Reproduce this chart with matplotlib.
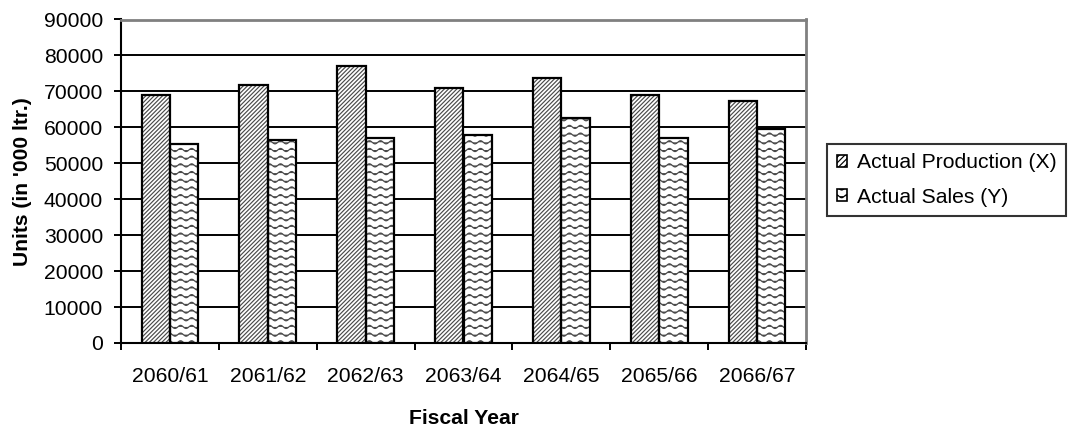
import numpy as np
import matplotlib
matplotlib.use("Agg")
import matplotlib.pyplot as plt
import matplotlib.hatch as mhatch
from matplotlib.path import Path
from matplotlib.patches import Patch

# Data
years = ["2060/61", "2061/62", "2062/63", "2063/64", "2064/65", "2065/66", "2066/67"]
production = [68900, 71700, 77200, 71000, 73800, 68900, 67200]
sales = [55500, 56600, 57100, 57800, 62700, 57100, 59400]
series_names = ["Actual Production (X)", "Actual Sales (Y)"]
y_ticks = list(range(0, 90001, 10000))


class WaveHatch(mhatch.HatchPatternBase):
    """Wavy horizontal hatch, used in place of the plain '-' hatch."""
    periods = 9
    samples = 10

    def __init__(self, hatch, density):
        self.num_rows = int(hatch.count('-') * 6.5)
        self.n_pts = self.periods * self.samples + 1
        self.num_vertices = self.num_rows * self.n_pts

    def set_vertices_and_codes(self, vertices, codes):
        if self.num_rows == 0:
            return
        xs = np.linspace(0.0, 1.0, self.n_pts)
        wave = 0.016 * np.sin(2 * np.pi * self.periods * xs)
        rows = (np.arange(self.num_rows) + 0.5) / self.num_rows
        for i, r in enumerate(rows):
            seg = slice(i * self.n_pts, (i + 1) * self.n_pts)
            vertices[seg, 0] = xs
            vertices[seg, 1] = r + wave
            codes[seg] = Path.LINETO
            codes[i * self.n_pts] = Path.MOVETO


mhatch._hatch_types[0] = WaveHatch

plt.rcParams['font.family'] = ['Liberation Sans', 'DejaVu Sans']
plt.rcParams['hatch.linewidth'] = 0.85

FS = 15.2

fig = plt.figure(figsize=(10.68, 4.28), dpi=100)
ax = fig.add_axes([121 / 1068, 1 - 343 / 428, 685 / 1068, 323.5 / 428])

x = np.arange(len(years))
w = 0.29
hatches = ['////////', '--']
hatch_col = '#4a4a4a'

for off, vals, h in [(-w / 2, production, hatches[0]),
                     (w / 2, sales, hatches[1])]:
    ax.bar(x + off, vals, width=w, color='white', edgecolor=hatch_col, hatch=h,
           linewidth=0, zorder=3)
    ax.bar(x + off, vals, width=w, fill=False, edgecolor='black',
           linewidth=1.6, zorder=4)

ax.set_xlim(-0.5, len(years) - 0.5)
ax.set_ylim(0, 90000)
ax.set_yticks(y_ticks)
ax.set_yticklabels([str(v) for v in y_ticks], fontsize=FS)
ax.yaxis.grid(True, color='black', linewidth=1.4, zorder=1)
ax.set_axisbelow(True)

ax.set_xticks(x)
ax.set_xticklabels(years, fontsize=FS)
ax.set_xticks(np.arange(len(years) + 1) - 0.5, minor=True)
ax.tick_params(axis='x', which='major', length=0, pad=17)
ax.tick_params(axis='x', which='minor', length=5, width=1.4, direction='out')
ax.tick_params(axis='y', which='major', length=5, width=1.4, direction='out', pad=8)

for side in ['left', 'bottom']:
    ax.spines[side].set_linewidth(1.5)
    ax.spines[side].set_color('black')
for side in ['top', 'right']:
    ax.spines[side].set_linewidth(2)
    ax.spines[side].set_color('#808080')

ax.set_ylabel("Units (in '000 ltr.)", fontsize=FS, fontweight='bold')
ax.yaxis.set_label_coords(-0.13, 0.5)
ax.set_xlabel("Fiscal Year", fontsize=FS, fontweight='bold')
ax.xaxis.set_label_coords(0.5, -0.205)

handles = [Patch(facecolor='white', edgecolor='black', hatch='//////', linewidth=1.2),
           Patch(facecolor='white', edgecolor='black', hatch='--', linewidth=1.2)]
leg = fig.legend(handles, series_names, loc='center left',
                 bbox_to_anchor=(827 / 1068, 1 - 180 / 428),
                 fontsize=FS, frameon=True, fancybox=False, shadow=False,
                 handlelength=0.5, handleheight=0.5, handletextpad=0.45,
                 labelspacing=0.72, borderpad=0.45, borderaxespad=0)
leg.get_frame().set_edgecolor('black')
leg.get_frame().set_linewidth(1.5)

fig.savefig("out.png", dpi=100)
